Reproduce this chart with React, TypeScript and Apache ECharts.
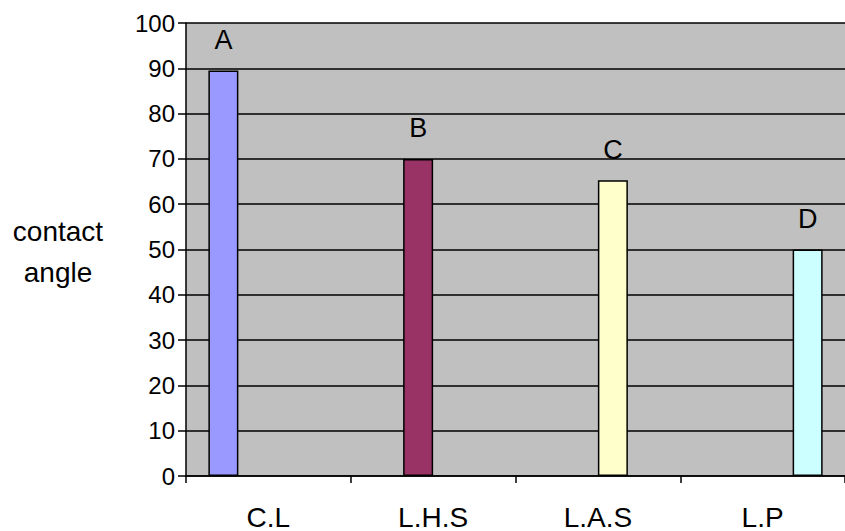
import React, { useEffect, useRef } from "react";
import * as echarts from "echarts";

const categories = ["C.L", "L.H.S", "L.A.S", "L.P"];
const seriesNames = ["A", "B", "C", "D"];
const values = [89.5, 70, 65.3, 50];
const colors = ["#9999FF", "#993366", "#FFFFCC", "#CCFFFF"];
const yTicks = { min: 0, max: 100, interval: 10 };

const FONT = "'Liberation Sans', Arial, sans-serif";

export default function App() {
  const ref = useRef<HTMLDivElement>(null);
  useEffect(() => {
    document.body.style.margin = "0";
    const chart = echarts.init(ref.current!, null, { renderer: "svg" });
    const series = seriesNames.map((name, i) => ({
      name,
      type: "bar",
      barWidth: 30,
      barGap: "0%",
      data: categories.map((_, j) => (j === i ? values[i] : null)),
      itemStyle: { color: colors[i], borderColor: "#000", borderWidth: 1.5 },
      label: {
        show: true,
        position: "top",
        distance: 17,
        formatter: "{a}",
        color: "#000",
        fontSize: 27,
        fontFamily: FONT,
      },
    }));
    chart.setOption({
      animation: false,
      backgroundColor: "#fff",
      grid: {
        left: 186,
        top: 23,
        bottom: 55,
        right: -11,
        show: true,
        backgroundColor: "#C0C0C0",
        borderWidth: 0,
      },
      xAxis: {
        type: "category",
        data: categories,
        axisLine: { lineStyle: { color: "#000", width: 1.5 } },
        axisTick: { show: true, length: 7, lineStyle: { color: "#000", width: 1.5 } },
        axisLabel: { color: "#000", fontSize: 28, fontFamily: FONT, margin: 27 },
      },
      yAxis: {
        type: "value",
        min: yTicks.min,
        max: yTicks.max,
        interval: yTicks.interval,
        axisLine: { show: true, lineStyle: { color: "#000", width: 1.5 } },
        axisTick: { show: true, length: 8, lineStyle: { color: "#000", width: 1.5 } },
        axisLabel: { color: "#000", fontSize: 24, fontFamily: FONT, margin: 11 },
        splitLine: { show: true, lineStyle: { color: "#000", width: 1.5 } },
      },
      graphic: [
        {
          type: "text",
          x: 58,
          y: 211,
          style: {
            text: "contact\nangle",
            fontSize: 28,
            fontFamily: FONT,
            fill: "#000",
            align: "center",
            verticalAlign: "top",
            lineHeight: 41,
          },
        },
      ],
      series,
    });
    return () => chart.dispose();
  }, []);
  return <div ref={ref} style={{ width: 845, height: 531 }} />;
}
